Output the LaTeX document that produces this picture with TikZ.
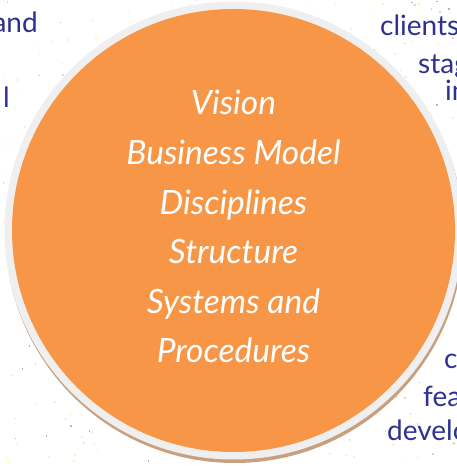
\documentclass[tikz,border=0pt]{standalone}
\usepackage{fontspec}
\setmainfont{Lato}
\usepackage{tikz}
\usetikzlibrary{positioning}
\definecolor{discorange}{HTML}{F79646}
\definecolor{discring}{HTML}{EFEFEF}
\definecolor{discshadow}{HTML}{C9A07E}
\definecolor{sidetext}{HTML}{2E3192}
\definecolor{speckyellow}{HTML}{FBF3B8}
\definecolor{speckpink}{HTML}{F5C9CF}
\definecolor{speckgray}{HTML}{B4B4BE}

\begin{document}
\begin{tikzpicture}[x=1pt,y=1pt,
	inner text/.style={inner sep=0pt,anchor=base,text=white,font=\fontsize{33.5}{40}\selectfont\itshape},
	side text/.style={inner sep=0pt,text=sidetext,font=\fontsize{28}{33}\selectfont},
	]
\useasboundingbox (0,0) rectangle (457,466);
\clip (0,0) rectangle (457,466);
% speckled paper
\pgfmathsetseed{11}
\foreach \k in {1,...,260} {\fill[speckyellow] (rnd*457,rnd*466) rectangle ++(1.6,1.6);}
\foreach \k in {1,...,110} {\fill[speckpink] (rnd*457,rnd*466) rectangle ++(1.4,1.4);}
\foreach \k in {1,...,110} {\fill[speckgray] (rnd*457,rnd*466) rectangle ++(1.4,1.4);}
% text round the disc
\node[side text,anchor=base east] (tland) at (38,433) {and};
\node[side text,anchor=base east] (tll) at (10,358) {l};
\node[side text,anchor=base west] (trclients) at (380,430) {clients};
\node[side text,anchor=base west] (trstag) at (418,392) {stag};
\node[side text,anchor=base west] (trin) at (445,365) {in};
\node[side text,anchor=base west] (brc) at (444,97) {c};
\node[side text,anchor=base west] (brfea) at (423,59) {fea};
\node[side text,anchor=base west] (brdevelo) at (387,25) {develo};
% the disc
\fill[discshadow] (234.5,232) circle (229);
\fill[discring] (233.5,235.5) circle (229);
\fill[discorange] (233.5,235.5) coordinate (centre) circle (221.5);
\foreach \txt [count=\i] in {Vision,Business Model,Disciplines,Structure,Systems and,Procedures}
	{\node[inner text] (line\i) at (233.5,351-49.6*\i+49.6) {\txt};}
\end{tikzpicture}
\end{document}
